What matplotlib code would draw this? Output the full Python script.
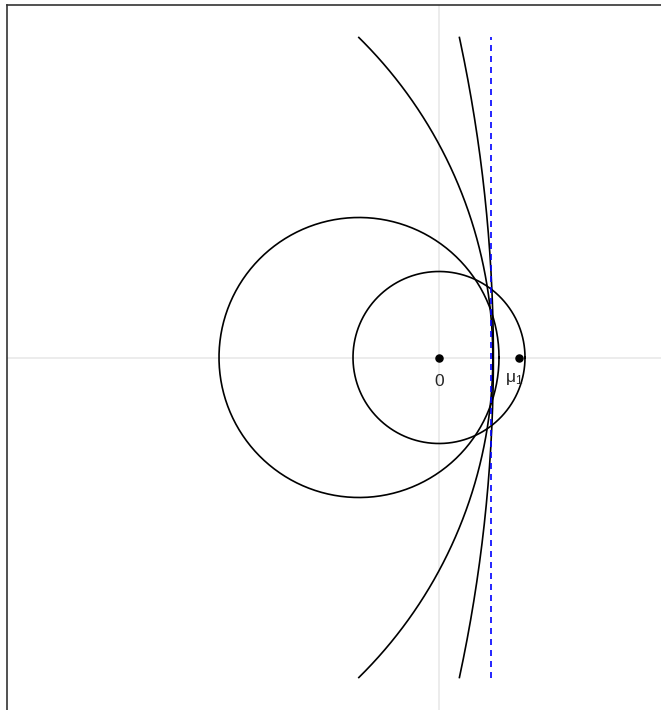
import numpy as np
import matplotlib
matplotlib.use("Agg")
import matplotlib.pyplot as plt

plt.rcParams["font.family"] = ["Liberation Sans", "DejaVu Sans"]
plt.rcParams["mathtext.fontset"] = "custom"
plt.rcParams["mathtext.rm"] = "Liberation Sans"
plt.rcParams["mathtext.it"] = "Liberation Sans"

# full circles: centre on the x axis, radius
circle_cx = [0.0, -1.0]
circle_r = [1.075, 1.75]

# partial arcs (large circles), drawn for |y| <= arc_ymax
arc_cx = [-4.94, -18.36]
arc_r = [5.613, 19.04]
arc_ymax = 4.0

# boundary line
boundary_x = 0.65
boundary_y = [-4.0, 4.0]

# marked points
point_x = [0.0, 1.0]
point_labels = ["0", r"$\mu_1$"]
label_dx = [0.0, -0.06]
label_dy = [-0.3, -0.27]

fig = plt.figure(figsize=(6.61, 7.10), dpi=100)
ax = fig.add_axes([7 / 661, 0, 1 - 7 / 661, 1 - 5 / 710])

ax.axhline(0, color="#ebebeb", lw=1.3, zorder=0)
ax.axvline(0, color="#ebebeb", lw=1.3, zorder=0)

t = np.linspace(0, 2 * np.pi, 400)
for cx, r in zip(circle_cx, circle_r):
    ax.plot(cx + r * np.cos(t), r * np.sin(t), color="black", lw=1.2)

for cx, r in zip(arc_cx, arc_r):
    a = np.arcsin(arc_ymax / r)
    s = np.linspace(-a, a, 300)
    ax.plot(cx + r * np.cos(s), r * np.sin(s), color="black", lw=1.2)

ax.plot([boundary_x, boundary_x], boundary_y, color="#0000ff", lw=1.2,
        linestyle=(0, (3.6, 3)))

ax.scatter(point_x, [0, 0], s=26, color="black", zorder=5)
for x, lab, dx, dy in zip(point_x, point_labels, label_dx, label_dy):
    ax.text(x + dx, dy, lab, ha="center", va="center", fontsize=12.5,
            color="#262626")

ax.set_xlim(-5.4, 2.775)
ax.set_ylim(-4.406, 4.406)
ax.set_xticks([])
ax.set_yticks([])
for side in ["right", "bottom"]:
    ax.spines[side].set_visible(False)
for side in ["left", "top"]:
    ax.spines[side].set_color("#333333")
    ax.spines[side].set_linewidth(1.2)

fig.savefig("out.png", dpi=100)
